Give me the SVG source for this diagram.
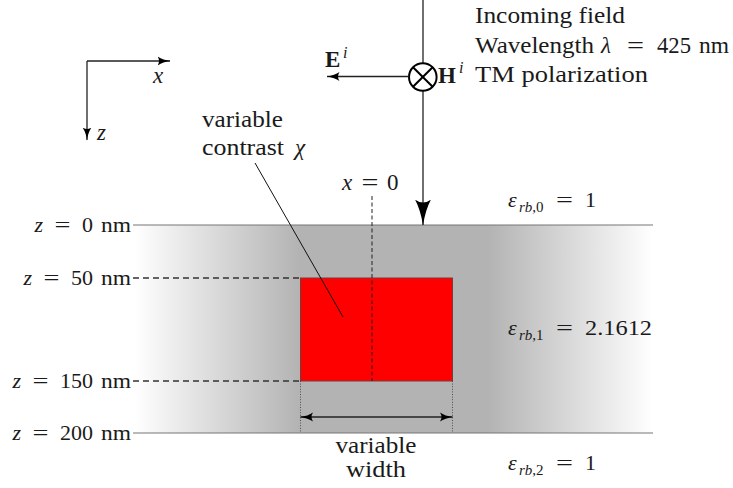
<svg xmlns="http://www.w3.org/2000/svg" width="733" height="488" viewBox="0 0 733 488">
<defs>
<linearGradient id="gl" x1="134" y1="0" x2="300" y2="0" gradientUnits="userSpaceOnUse">
<stop offset="0" stop-color="#ffffff"/><stop offset="1" stop-color="#b3b3b3"/>
</linearGradient>
<linearGradient id="gr" x1="488" y1="0" x2="653" y2="0" gradientUnits="userSpaceOnUse">
<stop offset="0" stop-color="#b3b3b3"/><stop offset="1" stop-color="#ffffff"/>
</linearGradient>
<marker id="ah" viewBox="0 0 13 10" refX="12.5" refY="5" markerWidth="13" markerHeight="10" markerUnits="userSpaceOnUse" orient="auto-start-reverse">
<path d="M0,0.5 Q5,4 13,5 Q5,6 0,9.5 Q3,5 0,0.5 Z" fill="#000"/>
</marker>
<marker id="ahb" viewBox="0 0 26 17" refX="25.5" refY="8.5" markerWidth="26" markerHeight="17" markerUnits="userSpaceOnUse" orient="auto">
<path d="M0,0.5 Q10,6 26,8.5 Q10,11 0,16.5 Q6,8.5 0,0.5 Z" fill="#000"/>
</marker>
</defs>
<style>
text{font-family:"Liberation Serif","DejaVu Serif",serif;font-size:23px;fill:#1a1a1a}
.it{font-style:italic}
.b{font-weight:bold}
.sup{font-size:16px;font-style:italic}
.sub{font-size:15px}
.s22{font-size:22px}
.r{text-anchor:end}
.m{text-anchor:middle}
.ln{stroke:#222;fill:none;stroke-width:1.3}
.thin{stroke:#777;fill:none;stroke-width:1.1}
.dash{stroke:#333;fill:none;stroke-width:1.3;stroke-dasharray:6,4}
.dot{stroke:#444;fill:none;stroke-width:0.9;stroke-dasharray:1,1.6}
</style>
<g id="layer">
<rect x="134" y="225" width="166.5" height="208" fill="url(#gl)"/>
<rect x="300" y="225" width="188.5" height="208" fill="#b3b3b3"/>
<rect x="488" y="225" width="165" height="208" fill="url(#gr)"/>
<line class="thin" x1="133" y1="225" x2="653" y2="225"/>
<line class="thin" x1="133" y1="433" x2="653" y2="433"/>
</g>
<g id="scatterer">
<rect x="300.5" y="278" width="152" height="103" fill="#ff0000" stroke="#7a3a3a" stroke-width="1"/>
</g>
<g id="axes">
<line class="ln" stroke="#444" x1="87" y1="61" x2="170" y2="61" marker-end="url(#ah)"/>
<line class="ln" stroke="#444" x1="87" y1="61" x2="87" y2="140" marker-end="url(#ah)"/>
<text class="it" x="153" y="83">x</text>
<text class="it" x="97" y="140">z</text>
</g>
<g id="incident">
<line class="ln" stroke-width="1.5" x1="423" y1="0" x2="423" y2="225" marker-end="url(#ahb)"/>
<circle cx="422.8" cy="77" r="13.8" fill="#fff" stroke="#000" stroke-width="2"/>
<path d="M413,67.2 L432.6,86.8 M432.6,67.2 L413,86.8" stroke="#000" stroke-width="2"/>
<line class="ln" x1="409" y1="76.5" x2="327" y2="76.5" marker-end="url(#ah)"/>
<text class="b" x="325" y="67">E</text><text class="sup" x="343" y="58">i</text>
<text class="b" x="438" y="83">H</text><text class="sup" x="459" y="73">i</text>
<text x="475" y="23" textLength="150" lengthAdjust="spacingAndGlyphs">Incoming field</text>
<text x="475" y="53" textLength="119" lengthAdjust="spacingAndGlyphs">Wavelength</text>
<text class="it" x="601" y="53">λ</text>
<text x="627" y="53" textLength="17" lengthAdjust="spacingAndGlyphs">=</text>
<text x="657" y="53" textLength="34" lengthAdjust="spacingAndGlyphs">425</text>
<text x="699" y="53" textLength="30" lengthAdjust="spacingAndGlyphs">nm</text>
<text x="475" y="82" textLength="173" lengthAdjust="spacingAndGlyphs">TM polarization</text>
</g>
<g id="contrast-label">
<text x="202" y="127" textLength="81" lengthAdjust="spacingAndGlyphs">variable</text>
<text x="202" y="155" textLength="82" lengthAdjust="spacingAndGlyphs">contrast</text>
<text class="it" x="295" y="155">χ</text>
<line stroke="#111" stroke-width="1" x1="255" y1="163" x2="343" y2="317"/>
</g>
<g id="connectors">
<line stroke="#222" stroke-width="1" stroke-dasharray="4,2.5" x1="372" y1="196" x2="372" y2="381"/>
<line class="dash" x1="133" y1="278" x2="300" y2="278"/>
<line class="dash" x1="133" y1="381" x2="300" y2="381"/>
<line class="dot" x1="300.5" y1="381" x2="300.5" y2="433"/>
<line class="dot" x1="452.5" y1="381" x2="452.5" y2="433"/>
<line class="ln" x1="300.5" y1="417" x2="452.5" y2="417" marker-start="url(#ah)" marker-end="url(#ah)"/>
</g>
<g id="labels">
<text class="it" x="342" y="190">x</text>
<text class="m" x="370" y="190" textLength="17" lengthAdjust="spacingAndGlyphs">=</text>
<text x="387" y="190">0</text>

<g class="s22">
<text class="it s22 r" x="43" y="232">z</text>
<text class="s22 m" x="62.5" y="232" textLength="16" lengthAdjust="spacingAndGlyphs">=</text>
<text class="s22 r" x="93" y="232">0</text>
<text class="s22 r" x="131" y="232" textLength="30" lengthAdjust="spacingAndGlyphs">nm</text>

<text class="it s22 r" x="32" y="285">z</text>
<text class="s22 m" x="51.5" y="285" textLength="16" lengthAdjust="spacingAndGlyphs">=</text>
<text class="s22 r" x="93" y="285">50</text>
<text class="s22 r" x="131" y="285" textLength="30" lengthAdjust="spacingAndGlyphs">nm</text>

<text class="it s22 r" x="21" y="388">z</text>
<text class="s22 m" x="40.5" y="388" textLength="16" lengthAdjust="spacingAndGlyphs">=</text>
<text class="s22 r" x="93" y="388">150</text>
<text class="s22 r" x="131" y="388" textLength="30" lengthAdjust="spacingAndGlyphs">nm</text>

<text class="it s22 r" x="21" y="440">z</text>
<text class="s22 m" x="40.5" y="440" textLength="16" lengthAdjust="spacingAndGlyphs">=</text>
<text class="s22 r" x="93" y="440">200</text>
<text class="s22 r" x="131" y="440" textLength="30" lengthAdjust="spacingAndGlyphs">nm</text>
</g>

<text class="m" x="376" y="453" textLength="81" lengthAdjust="spacingAndGlyphs">variable</text>
<text class="m" x="376" y="477" textLength="60" lengthAdjust="spacingAndGlyphs">width</text>

<text class="it s22" x="508" y="207">ε</text>
<text class="sub" x="519" y="212"><tspan class="it">rb</tspan>,0</text>
<text class="s22" x="556" y="207" textLength="17" lengthAdjust="spacingAndGlyphs">=</text>
<text class="s22" x="585" y="207">1</text>

<text class="it s22" x="508" y="335">ε</text>
<text class="sub" x="519" y="340"><tspan class="it">rb</tspan>,1</text>
<text class="s22" x="556" y="335" textLength="17" lengthAdjust="spacingAndGlyphs">=</text>
<text class="s22" x="585" y="335" textLength="67" lengthAdjust="spacingAndGlyphs">2.1612</text>

<text class="it s22" x="508" y="470">ε</text>
<text class="sub" x="519" y="475"><tspan class="it">rb</tspan>,2</text>
<text class="s22" x="556" y="470" textLength="17" lengthAdjust="spacingAndGlyphs">=</text>
<text class="s22" x="585" y="470">1</text>
</g>
</svg>
